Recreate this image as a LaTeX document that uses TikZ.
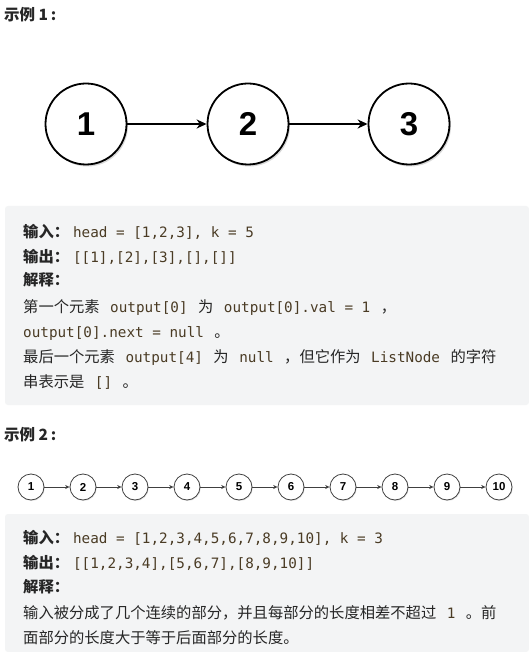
\documentclass[tikz,border=0pt]{standalone}
\usepackage{fontspec}
\setmainfont{Liberation Sans}
\setmonofont{DejaVu Sans Mono}
\newfontfamily\cjk{Noto Sans CJK SC}
\usetikzlibrary{shadows,arrows.meta}
\definecolor{boxbg}{HTML}{F3F4F5}
\definecolor{txt}{HTML}{262626}
\definecolor{codec}{HTML}{4A3B24}
\newcommand{\cd}[1]{{\ttfamily\fontsize{14.3}{18}\selectfont\color{codec}#1}}
\newcommand{\gp}{\hspace{10.5pt}}
\newcommand{\lab}[1]{\textbf{#1}\hspace{4pt}}
\begin{document}
\begin{tikzpicture}[x=1pt,y=-1pt,
  title/.style={anchor=west,inner sep=0pt,text=txt,font=\cjk\bfseries\fontsize{15.5}{18}\selectfont},
  line/.style={anchor=base west,inner sep=0pt,text=txt,font=\cjk\fontsize{15.3}{18}\selectfont},
  bigc/.style={circle,draw,line width=1.8pt,minimum size=81pt,inner sep=0pt,fill=white,
    font=\bfseries\fontsize{33}{33}\selectfont,
    drop shadow={opacity=0.3,shadow xshift=1.5pt,shadow yshift=-2pt}},
  bigarrow/.style={line width=1.8pt,-{Stealth[length=10pt,width=9pt]}},
  smallc/.style={circle,draw=black!75,line width=0.8pt,minimum size=26pt,inner sep=0pt,fill=white,
    font=\bfseries\fontsize{11.5}{11.5}\selectfont,
    drop shadow={opacity=0.2,shadow xshift=0.8pt,shadow yshift=-1pt}},
  smallarrow/.style={draw=black!75,line width=0.7pt,-{Stealth[length=4.5pt,width=4pt]}},
  panel/.style={fill=boxbg,rounded corners=3pt}]
\useasboundingbox (0,0) rectangle (529,652);
\fill[white] (0,0) rectangle (529,652);

% Example 1
\node[title] (t1) at (4,15) {示例 1\,:};
\node[bigc] (a1) at (86,124) {1};
\node[bigc] (a2) at (248,124) {2};
\node[bigc] (a3) at (409,124) {3};
\draw[bigarrow] (a1) -- (a2);
\draw[bigarrow] (a2) -- (a3);

\fill[panel] (5,206) rectangle (529,405);
\node[line] (l1) at (23,237) {\lab{输入：}\cd{head = [1,2,3], k = 5}};
\node[line] (l2) at (23,262) {\lab{输出：}\cd{[[1],[2],[3],[],[]]}};
\node[line] (l3) at (23,285) {\textbf{解释：}};
\node[line] (l4) at (23,312) {第一个元素\gp\cd{output[0]}\gp 为\gp\cd{output[0].val = 1}\gp ，};
\node[line] (l5) at (23,337) {\cd{output[0].next = null}\gp 。};
\node[line] (l6) at (23,362) {最后一个元素\gp\cd{output[4]}\gp 为\gp\cd{null}\gp ，但它作为\gp\cd{ListNode}\gp 的字符};
\node[line] (l7) at (23,387) {串表示是\gp\cd{[]}\gp 。};

% Example 2
\node[title] (t2) at (4,435) {示例 2\,:};
\foreach \i [count=\k from 0] in {1,...,10} {
  \node[smallc] (b\i) at ({31+52*\k},487) {\i};
}
\foreach \i [evaluate=\i as \j using int(\i+1)] in {1,...,9} {
  \draw[smallarrow] (b\i) -- (b\j);
}

\fill[panel] (5,514) rectangle (529,652);
\node[line] (m1) at (23,543) {\lab{输入：}\cd{head = [1,2,3,4,5,6,7,8,9,10], k = 3}};
\node[line] (m2) at (23,568) {\lab{输出：}\cd{[[1,2,3,4],[5,6,7],[8,9,10]]}};
\node[line] (m3) at (23,592) {\textbf{解释：}};
\node[line] (m4) at (23,618) {输入被分成了几个连续的部分，并且每部分的长度相差不超过\gp\cd{1}\gp 。前};
\node[line] (m5) at (23,643) {面部分的长度大于等于后面部分的长度。};
\end{tikzpicture}
\end{document}
